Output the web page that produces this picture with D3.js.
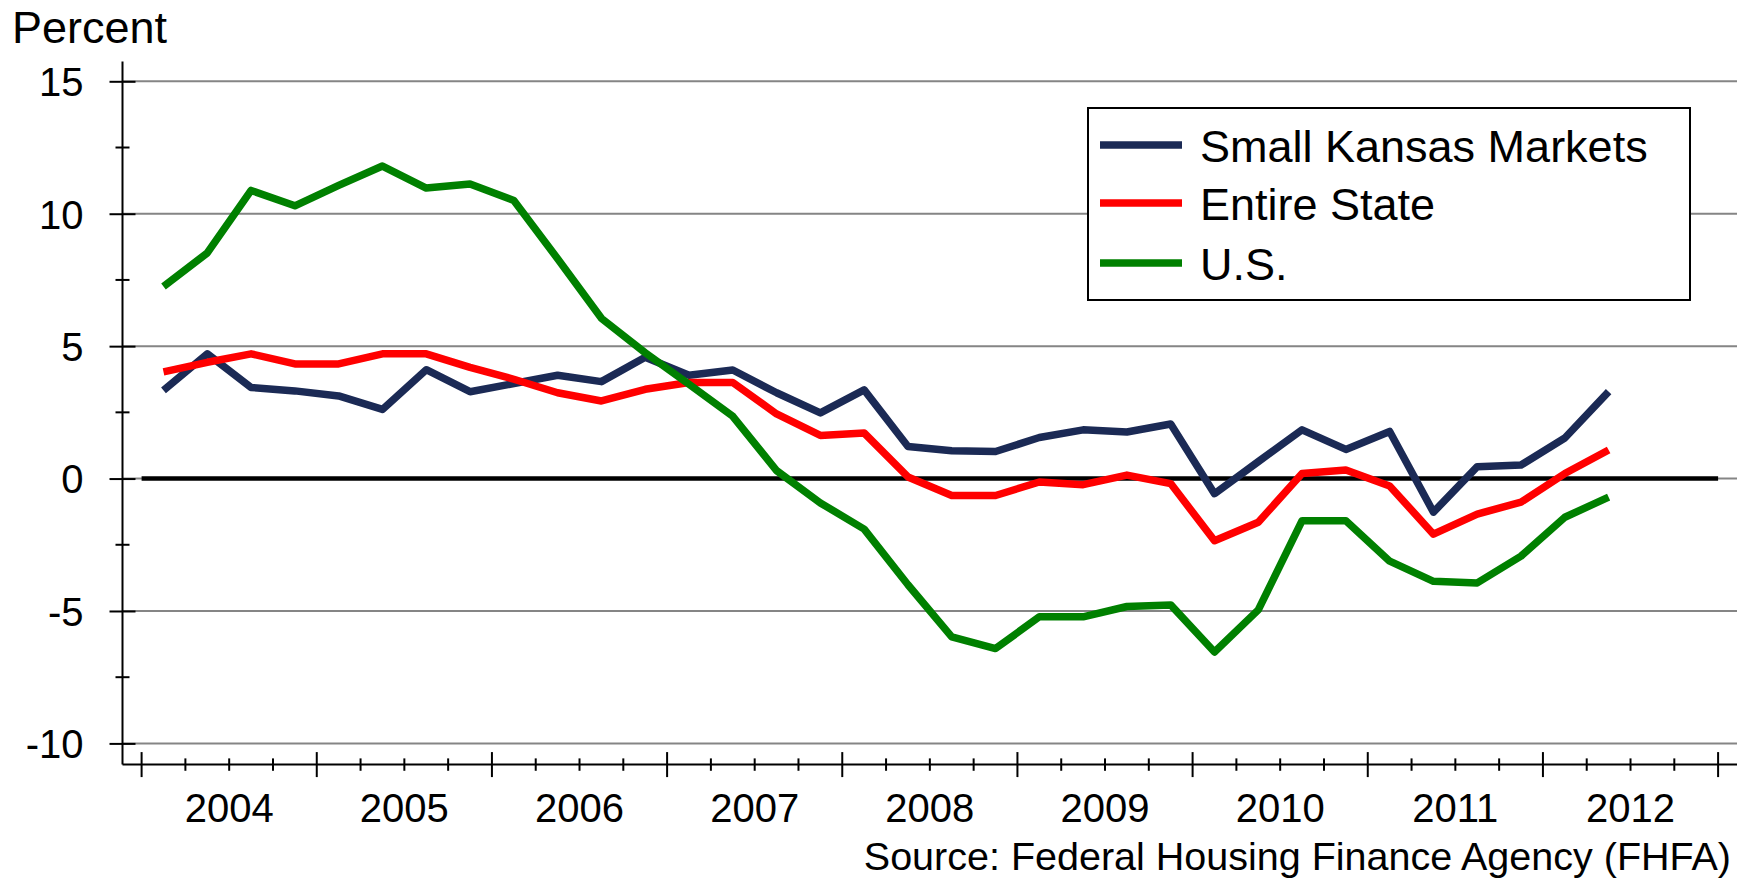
<!DOCTYPE html>
<html>
<head>
<meta charset="utf-8">
<script src="https://cdn.jsdelivr.net/npm/d3@7"></script>
<style>
  html, body { margin: 0; padding: 0; background: #fff; }
  svg { display: block; }
  text { font-family: "Liberation Sans", Arial, sans-serif; fill: #000; }
</style>
</head>
<body>
<svg id="chart" width="1745" height="882"></svg>
<script>
// ---- Data ----
const years = [2004, 2005, 2006, 2007, 2008, 2009, 2010, 2011, 2012];
const quarterNames = ["Q1", "Q2", "Q3", "Q4"];
const quarters = years.flatMap(y => quarterNames.map(q => y + q));

const smallKansas = [3.33, 4.71, 3.44, 3.31, 3.12, 2.61, 4.11, 3.28, 3.59, 3.9, 3.66, 4.58,
                     3.9, 4.1, 3.24, 2.48, 3.35, 1.21, 1.05, 1.02, 1.55, 1.84, 1.76, 2.06,
                     -0.57, 0.64, 1.84, 1.1, 1.78, -1.27, 0.45, 0.51, 1.53, 3.28];
const entireState = [4.03, 4.39, 4.71, 4.33, 4.33, 4.71, 4.71, 4.2, 3.75, 3.24, 2.93, 3.37,
                     3.63, 3.63, 2.44, 1.63, 1.72, 0.06, -0.64, -0.64, -0.13, -0.23, 0.13, -0.19,
                     -2.35, -1.65, 0.19, 0.32, -0.28, -2.1, -1.34, -0.89, 0.19, 1.08];
const us = [7.25, 8.52, 10.88, 10.3, 11.07, 11.8, 10.97, 11.12, 10.5, 8.3, 6.05, 4.75,
            3.56, 2.35, 0.3, -0.92, -1.91, -4.01, -5.98, -6.42, -5.22, -5.22, -4.83, -4.77,
            -6.55, -4.96, -1.59, -1.59, -3.12, -3.88, -3.94, -2.93, -1.46, -0.7];

const seriesNames = ["Small Kansas Markets", "Entire State", "U.S."];
const seriesColors = ["#1b2a55", "#ff0000", "#008000"];
const seriesValues = [smallKansas, entireState, us];

const yMajorTicks = [-10, -5, 0, 5, 10, 15];
const yMinorTicks = [-7.5, -2.5, 2.5, 7.5, 12.5];

// ---- Layout ----
const svg = d3.select("#chart");
const axisX = 122.5, gridRight = 1737;
const x = d3.scaleBand().domain(quarters).range([141.6, 1718.1]).paddingInner(0).paddingOuter(0);
const y = d3.scaleLinear().domain([-10, 15]).range([743.4, 81.3]);
const axisTopVal = 15.75, axisBottomVal = -10.8;
const xAxisY = y(axisBottomVal);
const cx = q => x(q) + x.bandwidth() / 2;

// Gridlines
svg.append("g").selectAll("line").data(yMajorTicks).join("line")
  .attr("x1", axisX).attr("x2", gridRight)
  .attr("y1", d => y(d)).attr("y2", d => y(d))
  .attr("stroke", "#858585").attr("stroke-width", 2);

// Thick zero line
svg.append("line")
  .attr("x1", x.range()[0]).attr("x2", x.range()[1])
  .attr("y1", y(0)).attr("y2", y(0))
  .attr("stroke", "#000").attr("stroke-width", 4.5);

// Y axis
const yAxis = svg.append("g").attr("transform", `translate(${axisX},0)`)
  .call(d3.axisLeft(y).tickValues(yMajorTicks).tickSize(13).tickPadding(40).tickFormat(d => String(d)));
yAxis.select(".domain").remove();
yAxis.selectAll(".tick line").attr("x1", -13).attr("x2", 13).attr("stroke", "#000").attr("stroke-width", 2);
yAxis.selectAll(".tick text")
  .attr("x", -39).attr("dy", "0.36em")
  .style("font-size", "40px").style("font-family", "'Liberation Sans', Arial, sans-serif")
  .attr("fill", "#000");
svg.append("line").attr("x1", axisX).attr("x2", axisX)
  .attr("y1", y(axisTopVal)).attr("y2", xAxisY)
  .attr("stroke", "#000").attr("stroke-width", 2);
svg.append("g").selectAll("line").data(yMinorTicks).join("line")
  .attr("x1", axisX - 7).attr("x2", axisX + 7)
  .attr("y1", d => y(d)).attr("y2", d => y(d))
  .attr("stroke", "#000").attr("stroke-width", 2);

// X axis
svg.append("line").attr("x1", axisX).attr("x2", gridRight)
  .attr("y1", xAxisY).attr("y2", xAxisY)
  .attr("stroke", "#000").attr("stroke-width", 2);
const boundaries = quarters.map(q => x(q)).concat([x.range()[1]]);
svg.append("g").selectAll("line").data(boundaries).join("line")
  .attr("x1", d => d).attr("x2", d => d)
  .attr("y1", (d, i) => xAxisY - (i % 4 === 0 ? 12.5 : 6.2))
  .attr("y2", (d, i) => xAxisY + (i % 4 === 0 ? 12.5 : 6.2))
  .attr("stroke", "#000").attr("stroke-width", 2);
svg.append("g").selectAll("text").data(years).join("text")
  .attr("x", yr => (x(yr + "Q1") + x(yr + "Q4") + x.bandwidth()) / 2)
  .attr("y", 822)
  .attr("text-anchor", "middle")
  .style("font-size", "40px")
  .text(d => d);

// Series lines
const line = d3.line().x((d, i) => cx(quarters[i])).y(d => y(d));
seriesValues.forEach((vals, k) => {
  svg.append("path").datum(vals)
    .attr("d", line)
    .attr("fill", "none")
    .attr("stroke", seriesColors[k])
    .attr("stroke-width", 7.5)
    .attr("stroke-linejoin", "round");
});

// Legend
const lg = svg.append("g");
lg.append("rect").attr("x", 1088).attr("y", 108).attr("width", 602).attr("height", 192)
  .attr("fill", "#fff").attr("stroke", "#000").attr("stroke-width", 2);
const legendRows = [145, 203, 263];
seriesNames.forEach((name, k) => {
  lg.append("line").attr("x1", 1100).attr("x2", 1182)
    .attr("y1", legendRows[k]).attr("y2", legendRows[k])
    .attr("stroke", seriesColors[k]).attr("stroke-width", 7.5);
  lg.append("text").attr("x", 1200).attr("y", legendRows[k] + 17)
    .style("font-size", "45px").text(name);
});

// Titles
svg.append("text").attr("x", 12).attr("y", 43).style("font-size", "45px").text("Percent");
svg.append("text").attr("x", 1731).attr("y", 870).attr("text-anchor", "end")
  .style("font-size", "39.5px").text("Source: Federal Housing Finance Agency (FHFA)");
</script>
</body>
</html>
